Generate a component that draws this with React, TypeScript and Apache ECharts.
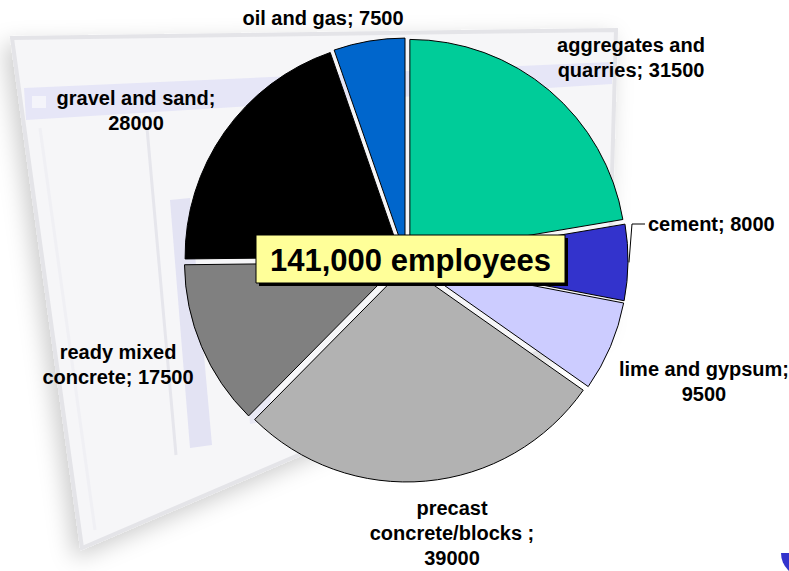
import React, { useEffect, useRef } from 'react';
import * as echarts from 'echarts';

// ---- data ----
const categories = [
  'aggregates and\nquarries',
  'cement',
  'lime and gypsum',
  'precast\nconcrete/blocks ',
  'ready mixed\nconcrete',
  'gravel and sand',
  'oil and gas',
];
const employees = [31500, 8000, 9500, 39000, 17500, 28000, 7500];
const labelSeparators = ['; ', '; ', ';\n', ';\n', '; ', ';\n', '; '];
const totalSuffix = ' employees';

// ---- styles / layout ----
const sliceColors = ['#00cc99', '#3333cc', '#ccccff', '#b2b2b2', '#808080', '#000000', '#0066cc'];
const labelAnchors: [number, number, string][] = [
  [631, 57, 'center'],
  [648, 224, 'left'],
  [704, 381, 'center'],
  [452, 533, 'center'],
  [118, 364, 'center'],
  [136, 110, 'center'],
  [323, 18, 'center'],
];
const PIE_CENTER = [406, 260];
const PIE_RADIUS = 216;
const EXPLODE = 6;
const FONT = '"Liberation Sans", Arial, Helvetica, sans-serif';

export default function App() {
  const ref = useRef<HTMLDivElement>(null);

  useEffect(() => {
    if (!ref.current) return;
    const chart = echarts.init(ref.current, null, { renderer: 'svg' });
    const total = employees.reduce((a, b) => a + b, 0);
    const totalText = total.toLocaleString('en-US') + totalSuffix;

    const sliceData = categories.map((name, i) => ({
      name,
      value: employees[i],
      selected: true,
      itemStyle: { color: sliceColors[i] },
    }));

    const labelData = categories.map((name, i) => ({
      name,
      value: employees[i],
      label: { formatter: name + labelSeparators[i] + employees[i] },
      labelLine:
        i === 1
          ? { show: true, length: 8, length2: 10, lineStyle: { color: '#000', width: 1 } }
          : { show: false },
    }));

    chart.setOption({
      animation: false,
      backgroundColor: '#ffffff',
      graphic: [
        {
          type: 'polygon',
          z: -10,
          shape: { points: [[12, 38], [616, 30], [608, 322], [82, 548]] },
          style: {
            fill: '#f6f6f8',
            stroke: '#e4e4e8',
            lineWidth: 4,
            shadowBlur: 22,
            shadowColor: 'rgba(0,0,0,0.2)',
            shadowOffsetX: -6,
            shadowOffsetY: 8,
          },
        },
        {
          type: 'polygon',
          z: -9,
          shape: { points: [[24, 88], [612, 62], [612, 84], [26, 120]] },
          style: { fill: '#e6e6f7' },
        },
        {
          type: 'rect',
          z: -8,
          shape: { x: 32, y: 96, width: 14, height: 12 },
          style: { fill: '#f4f4fa' },
        },
        {
          type: 'line',
          z: -8,
          shape: { x1: 147, y1: 128, x2: 176, y2: 455 },
          style: { stroke: '#e6e6ec', lineWidth: 3 },
        },
        {
          type: 'line',
          z: -8,
          shape: { x1: 40, y1: 128, x2: 95, y2: 530 },
          style: { stroke: '#f0f0f4', lineWidth: 3 },
        },
        {
          type: 'polygon',
          z: -8,
          shape: { points: [[170, 200], [190, 198], [212, 445], [190, 448]] },
          style: { fill: '#e3e3f3' },
        },
        {
          type: 'polygon',
          z: -8,
          shape: { points: [[240, 280], [262, 278], [272, 420], [250, 424]] },
          style: { fill: '#e9e9f5' },
        },
        {
          type: 'sector',
          z: -5,
          shape: { cx: 805, cy: 553, r: 24, r0: 0, startAngle: 0, endAngle: Math.PI },
          style: { fill: '#3333cc' },
        },
        {
          type: 'rect',
          z: 100,
          shape: { x: 259, y: 238, width: 309, height: 48 },
          style: { fill: '#000000' },
        },
        {
          type: 'rect',
          z: 101,
          shape: { x: 256, y: 235, width: 309, height: 48 },
          style: { fill: '#ffff99', stroke: '#000000', lineWidth: 1 },
        },
        {
          type: 'text',
          z: 102,
          x: 410.5,
          y: 260,
          style: {
            text: totalText,
            fill: '#000000',
            font: `bold 31px ${FONT}`,
            align: 'center',
            verticalAlign: 'middle',
          },
        },
      ],
      series: [
        {
          type: 'pie',
          center: PIE_CENTER,
          radius: PIE_RADIUS,
          startAngle: 90,
          clockwise: true,
          selectedMode: 'multiple',
          selectedOffset: EXPLODE,
          itemStyle: { borderColor: '#000000', borderWidth: 1 },
          emphasis: { disabled: true },
          label: { show: false },
          labelLine: { show: false },
          silent: true,
          data: sliceData,
        },
        {
          type: 'pie',
          center: PIE_CENTER,
          radius: PIE_RADIUS,
          startAngle: 90,
          clockwise: true,
          silent: true,
          z: 3,
          avoidLabelOverlap: false,
          itemStyle: { color: 'rgba(0,0,0,0)', borderWidth: 0 },
          emphasis: { disabled: true },
          label: {
            show: true,
            position: 'outside',
            color: '#000000',
            fontFamily: FONT,
            fontWeight: 'bold',
            fontSize: 20,
            lineHeight: 25,
            align: 'center',
          },
          labelLayout: (params: any) => {
            const [x, y, align] = labelAnchors[params.dataIndex];
            const res: any = { x, y, align, verticalAlign: 'middle' };
            if (params.dataIndex === 1 && params.labelLinePoints) {
              const p = params.labelLinePoints[0];
              const dx = p[0] - PIE_CENTER[0];
              const dy = p[1] - PIE_CENTER[1];
              const len = Math.sqrt(dx * dx + dy * dy) || 1;
              const p0 = [p[0] + (dx / len) * (EXPLODE + 1), p[1] + (dy / len) * (EXPLODE + 1)];
              res.labelLinePoints = [p0, [p0[0] + 3, y], [x - 3, y]];
            }
            return res;
          },
          data: labelData,
        },
      ],
    });

    return () => chart.dispose();
  }, []);

  return (
    <div
      ref={ref}
      style={{ position: 'absolute', left: 0, top: 0, width: 789, height: 571 }}
    />
  );
}
